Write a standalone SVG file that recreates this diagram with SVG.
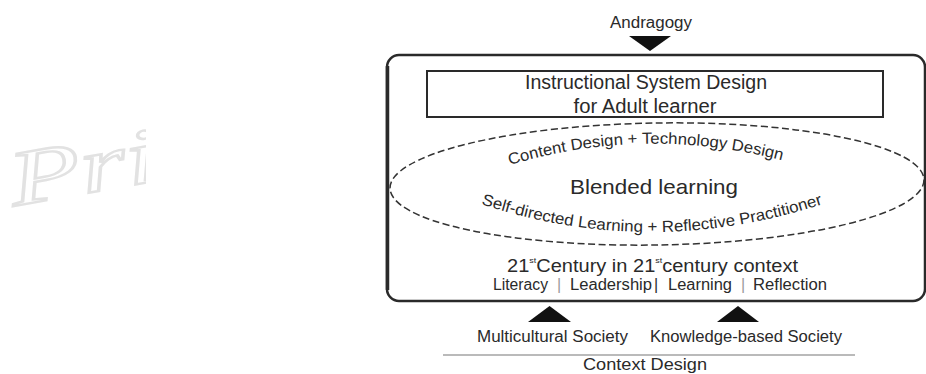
<svg xmlns="http://www.w3.org/2000/svg" width="926" height="374" viewBox="0 0 926 374">
<style>
.t{font-family:"Liberation Sans","Noto Sans",Arial,sans-serif;fill:#2a2a2a}
.bar{fill:#9a9a9a}
.arrow{fill:#111}
</style>
<defs>
<clipPath id="wmclip"><rect x="0" y="0" width="146" height="374"/></clipPath>
<path id="topArc" d="M 500 168 Q 645 122 792 163"/>
<path id="botArc" d="M 472 201 Q 650 263 832 201"/>
</defs>
<rect width="926" height="374" fill="#ffffff"/>
<g id="watermark" clip-path="url(#wmclip)">
<text x="14" y="206" transform="rotate(-10 14 206)" font-family="Liberation Serif,serif" font-style="italic" font-size="78" fill="none" stroke="#e2e2e2" stroke-width="2.4" textLength="150" lengthAdjust="spacingAndGlyphs">Pri</text>
</g>
<g id="andragogy">
<text class="t" x="651" y="28" font-size="16" text-anchor="middle" textLength="82" lengthAdjust="spacingAndGlyphs">Andragogy</text>
</g>
<g id="main-box">
<rect x="387" y="55" width="538" height="246" rx="12" fill="none" stroke="#2a2a2a" stroke-width="2.5"/>
<line x1="387.5" y1="66" x2="387.5" y2="290" stroke="#2a2a2a" stroke-width="3.5"/>
</g>
<g id="isd-box">
<rect x="427" y="71" width="456" height="46" fill="none" stroke="#2a2a2a" stroke-width="2"/>
<text class="t" x="646" y="89" font-size="20" text-anchor="middle" textLength="242" lengthAdjust="spacingAndGlyphs">Instructional System Design</text>
<text class="t" x="645" y="113" font-size="20" text-anchor="middle" textLength="143" lengthAdjust="spacingAndGlyphs">for Adult learner</text>
</g>
<g id="blended-learning">
<ellipse cx="657" cy="184" rx="267" ry="61" transform="rotate(-0.9 657 184)" fill="none" stroke="#333" stroke-width="1.5" stroke-dasharray="7 3.5"/>
<text class="t" font-size="16"><textPath href="#topArc" startOffset="50%" text-anchor="middle" textLength="276" lengthAdjust="spacingAndGlyphs">Content Design + Technology Design</textPath></text>
<text class="t" x="654" y="194" font-size="21" text-anchor="middle" textLength="168" lengthAdjust="spacingAndGlyphs">Blended learning</text>
<text class="t" font-size="16"><textPath href="#botArc" startOffset="50%" text-anchor="middle" textLength="348" lengthAdjust="spacingAndGlyphs">Self-directed Learning + Reflective Practitioner</textPath></text>
</g>
<g id="context-21">
<text class="t" x="507" y="272" font-size="18" textLength="291" lengthAdjust="spacingAndGlyphs">21<tspan font-size="8" dy="-9">st</tspan><tspan dy="9">Century in 21</tspan><tspan font-size="8" dy="-9">st</tspan><tspan dy="9">century context</tspan></text>
<text class="t" y="290" font-size="16"><tspan x="493" textLength="55" lengthAdjust="spacingAndGlyphs">Literacy</tspan><tspan class="bar" x="557">|</tspan><tspan x="570" textLength="82" lengthAdjust="spacingAndGlyphs">Leadership</tspan><tspan x="654">|</tspan><tspan x="668" textLength="64" lengthAdjust="spacingAndGlyphs">Learning</tspan><tspan class="bar" x="741">|</tspan><tspan x="753" textLength="74" lengthAdjust="spacingAndGlyphs">Reflection</tspan></text>
</g>
<g id="multicultural-society">
<text class="t" x="477" y="342" font-size="16" textLength="151" lengthAdjust="spacingAndGlyphs">Multicultural Society</text>
</g>
<g id="knowledge-society">
<text class="t" x="650" y="342" font-size="16" textLength="192" lengthAdjust="spacingAndGlyphs">Knowledge-based Society</text>
</g>
<g id="context-design">
<line x1="443" y1="355" x2="855" y2="355" stroke="#777" stroke-width="1.2"/>
<text class="t" x="645" y="370" font-size="16" text-anchor="middle" textLength="124" lengthAdjust="spacingAndGlyphs">Context Design</text>
</g>
<g id="connectors">
<polygon class="arrow" points="629,36 671,36 650,51"/>
<polygon class="arrow" points="528,322 571,322 549.5,306"/>
<polygon class="arrow" points="717,322 759,322 738,306"/>
</g>
</svg>
